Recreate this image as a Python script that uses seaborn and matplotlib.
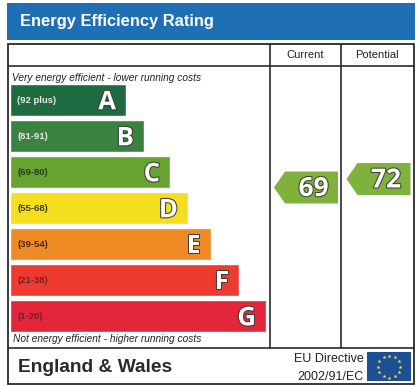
import numpy as np
import pandas as pd
import matplotlib
matplotlib.use("Agg")
import matplotlib.pyplot as plt
import matplotlib.patheffects as pe
from matplotlib.patches import Rectangle
import seaborn as sns

bands = ["A", "B", "C", "D", "E", "F", "G"]
ranges = ["(92 plus)", "(81-91)", "(69-80)", "(55-68)", "(39-54)", "(21-38)", "(1-20)"]
bar_lengths = [116, 134, 160, 178, 201, 229, 256]
band_colors = ["#1f6b41", "#3a8240", "#67a331", "#f4de1f", "#f08a24", "#ee3b32", "#e3263a"]
range_colors = ["#e8e8e8", "#e8e8e8", "#2e3a1a", "#3a3a1a", "#3a2a18", "#7a1f1a", "#7a1a24"]
columns = ["Current", "Potential"]
ratings = [69, 72]

W, H = 419, 386
sns.set_theme(style="white")
plt.rcParams["font.family"] = ["Liberation Sans", "DejaVu Sans"]
fig = plt.figure(figsize=(W / 100, H / 100), dpi=100, facecolor="white")


def axes_px(x0, y0, x1, y1):
    return fig.add_axes([x0 / W, 1 - y1 / H, (x1 - x0) / W, (y1 - y0) / H])


# page furniture in pixel coordinates
bg = axes_px(0, 0, W, H)
bg.set_xlim(0, W)
bg.set_ylim(H, 0)
bg.axis("off")
ink = "#2b2b2b"
bg.add_patch(Rectangle((7, 3), 408, 37, fc="#1f6fb4", ec="none"))
bg.text(20, 21.5, "Energy Efficiency Rating", color="white", fontsize=11.9,
        fontweight="bold", va="center", ha="left")
bg.add_patch(Rectangle((8, 44), 405.5, 340, fc="none", ec=ink, lw=1.3))
bg.plot([8, 413.5], [66, 66], color=ink, lw=1.2)
bg.plot([8, 413.5], [348, 348], color=ink, lw=1.2)
bg.plot([269.5, 269.5], [44, 348], color=ink, lw=1.2)
bg.plot([341, 341], [44, 348], color=ink, lw=1.2)
bg.text(305, 55.5, columns[0], fontsize=8, color="#222222", ha="center", va="center")
bg.text(377, 55, columns[1], fontsize=8, color="#222222", ha="center", va="center")
bg.text(12, 78, "Very energy efficient - lower running costs", fontsize=7.25,
        style="italic", color="#222222", va="center")
bg.text(13, 338.5, "Not energy efficient - higher running costs", fontsize=7.25,
        style="italic", color="#222222", va="center")
bg.text(18, 367.5, "England & Wales", fontsize=13.8, fontweight="bold",
        color="#2a2a2a", va="center")
bg.text(364, 358.5, "EU Directive", fontsize=9, color="#222222", ha="right", va="center")
bg.text(364, 377, "2002/91/EC", fontsize=9, color="#222222", ha="right", va="center")
bg.add_patch(Rectangle((367, 352), 44, 29, fc="#1c4f96", ec="none"))
angles = np.linspace(0, 2 * np.pi, 12, endpoint=False)
bg.scatter(389 + 11 * np.cos(angles), 366.5 + 11 * np.sin(angles), marker="*", s=9,
           color="#f2e23a", linewidths=0, zorder=3)

# bands
df = pd.DataFrame({"band": bands, "length": bar_lengths})
ax = axes_px(10, 82, 266, 334)
ax.patch.set_alpha(0)
sns.barplot(data=df, y="band", x="length", hue="band", palette=band_colors, dodge=False,
            legend=False, width=0.91, saturation=1, ax=ax)
ax.set_xlim(0, 256)
ax.set_ylim(6.5, -0.5)
ax.axis("off")
outline = [pe.Stroke(linewidth=1.5, foreground="#3c4038"), pe.Normal()]
for i, (band, rng, length) in enumerate(zip(bands, ranges, bar_lengths)):
    ax.text(7, i + 0.02, rng, fontsize=6.8, fontweight="bold", color=range_colors[i],
            va="center", ha="left")
    ax.text(length - 10, i + 0.05, band, fontsize=18.5, fontweight="bold", color="white",
            va="center", ha="right", family="Open Sans", path_effects=outline)

# rating arrows: x in pixels, y on the rating scale
px_per_point = 2.83
arrows = axes_px(0, 0, W, H)
arrows.patch.set_alpha(0)
arrows.set_xlim(0, W)
arrows.set_ylim(ratings[0] - (H - 187.5) / px_per_point, ratings[0] + 187.5 / px_per_point)
arrows.axis("off")
half = 16 / px_per_point
for left, rating in zip([274, 346.5], ratings):
    arrows.fill([left, left + 11, left + 64, left + 64, left + 11],
                [rating, rating + half, rating + half, rating - half, rating - half],
                color="#7fb23c", lw=0)
    arrows.text(left + 39.5, rating - 0.35, str(rating), fontsize=19, fontweight="bold",
                color="white", ha="center", va="center", family="Open Sans",
                path_effects=outline)

fig.savefig("out.png", dpi=100)
